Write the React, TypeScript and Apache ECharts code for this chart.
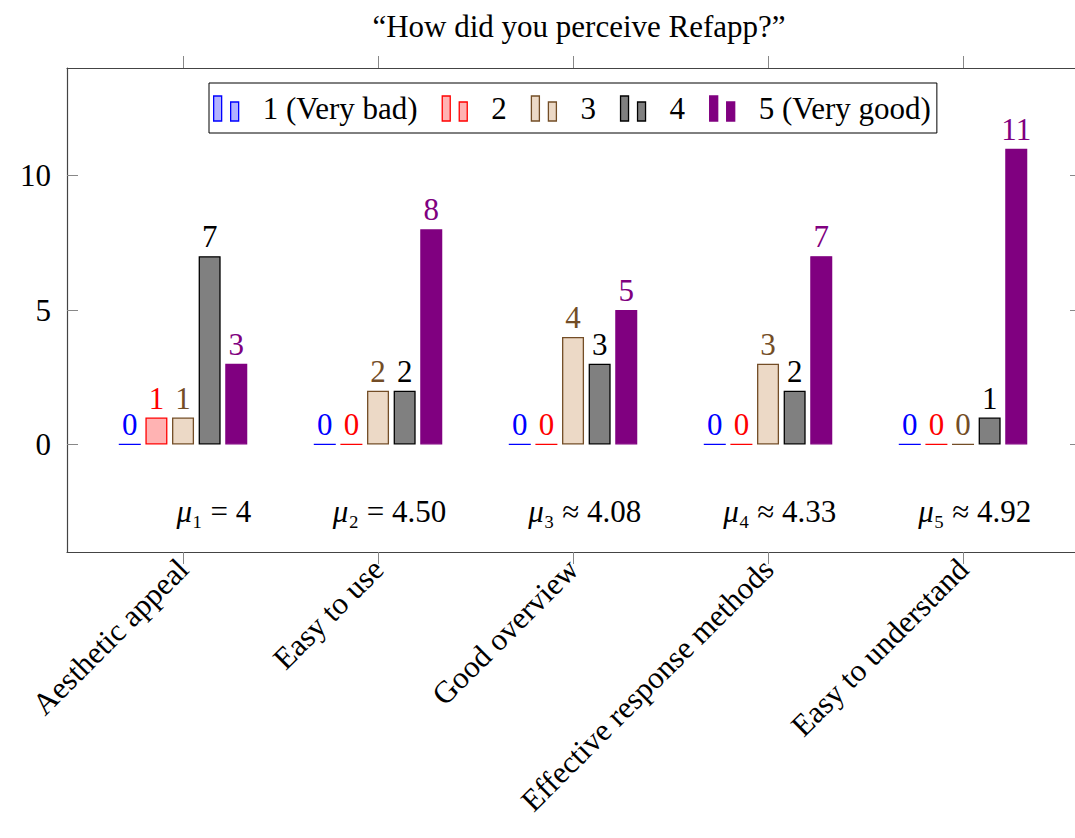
import React, { useEffect, useRef } from "react";
import * as echarts from "echarts";

const categories = [
  "Aesthetic appeal",
  "Easy to use",
  "Good overview",
  "Effective response methods",
  "Easy to understand",
];
const ratingNames = ["1 (Very bad)", "2", "3", "4", "5 (Very good)"];
const rating1 = [0, 0, 0, 0, 0];
const rating2 = [1, 0, 0, 0, 0];
const rating3 = [1, 2, 4, 3, 0];
const rating4 = [7, 2, 3, 2, 1];
const rating5 = [3, 8, 5, 7, 11];
const meanLabels = ["₁ = 4", "₂ = 4.50", "₃ ≈ 4.08", "₄ ≈ 4.33", "₅ ≈ 4.92"];
const yTicks = [0, 5, 10];
const xTicks = [0, 1, 2, 3, 4];

const fills = ["#b3b3ff", "#ffb3b3", "#ecd9c6", "#808080", "#800080"];
const strokes = ["#0000ff", "#ff0000", "#734d26", "#000000", "#800080"];

const FONT = "'Liberation Serif', 'Times New Roman', serif";
const FS = 31;

export default function App() {
  const ref = useRef<HTMLDivElement>(null);
  useEffect(() => {
    if (!ref.current) return;
    const chart = echarts.init(ref.current, undefined, { renderer: "svg" });
    const all = [rating1, rating2, rating3, rating4, rating5];
    const barSeries = all.map((vals, si) => ({
      type: "bar",
      name: ratingNames[si],
      xAxisIndex: 0,
      yAxisIndex: 0,
      data: vals.map((v, i) => [i, v]),
      barWidth: 22,
      barGap: "21%",
      itemStyle: { color: fills[si], borderColor: strokes[si], borderWidth: 1.3 },
      label: {
        show: true,
        position: "top",
        distance: 4,
        color: strokes[si],
        fontFamily: FONT,
        fontSize: FS,
        formatter: (p: any) => String(p.value[1]),
      },
    }));
    const meanSeries = {
      type: "scatter",
      name: "means",
      silent: true,
      symbolSize: 0,
      itemStyle: { color: "#000" },
      data: meanLabels.map((_, i) => [i + 0.35, -2.5]),
      label: {
        show: true,
        position: "left",
        distance: 0,
        color: "#000",
        opacity: 1,
        fontFamily: FONT,
        fontSize: FS,
        formatter: (p: any) => "{i|μ}" + meanLabels[p.dataIndex],
        rich: { i: { fontStyle: "italic", fontFamily: FONT, fontSize: FS, color: "#000" } },
      },
    };
    const axisLineStyle = { color: "#444", width: 1.2 };
    chart.setOption({
      animation: false,
      backgroundColor: "#fff",
      title: {
        text: "“How did you perceive Refapp?”",
        left: 574,
        textAlign: "center",
        top: 6,
        textStyle: { fontFamily: FONT, fontSize: FS, fontWeight: "normal", color: "#000" },
      },
      legend: {
        data: ratingNames,
        left: 209,
        top: 83,
        orient: "horizontal",
        icon: "path://M0,0 H8 V25 H0 Z M17,6 H25 V25 H17 Z",
        itemWidth: 25,
        itemHeight: 25,
        itemGap: 24,
        padding: [10, 6, 9, 4],
        borderColor: "#000",
        borderWidth: 1,
        borderRadius: 0,
        backgroundColor: "#fff",
        selectedMode: false,
        itemStyle: { borderWidth: 1.3 },
        textStyle: { fontFamily: FONT, fontSize: FS, color: "#000", padding: [0, 0, 0, 19] },
      },
      grid: {
        left: 67,
        top: 68,
        width: 1014,
        height: 484,
        containLabel: false,
        outerBoundsMode: "none",
      },
      xAxis: [
        {
          type: "value",
          position: "bottom",
          min: -0.595,
          max: 4.605,
          splitLine: { show: false },
          axisLine: { show: true, onZero: false, lineStyle: axisLineStyle },
          axisTick: { show: true, inside: false, length: 12, customValues: xTicks, lineStyle: { color: "#888" } },
          axisLabel: {
            show: true,
            customValues: xTicks,
            rotate: 45,
            margin: 12,
            fontFamily: FONT,
            fontSize: FS,
            color: "#000",
            formatter: (v: number) => categories[Math.round(v)] ?? "",
          },
        },
        {
          type: "value",
          position: "top",
          min: -0.595,
          max: 4.605,
          splitLine: { show: false },
          axisLine: { show: true, onZero: false, lineStyle: axisLineStyle },
          axisTick: { show: true, inside: false, length: 12, customValues: xTicks, lineStyle: { color: "#888" } },
          axisLabel: { show: false },
        },
      ],
      yAxis: [
        {
          type: "value",
          position: "left",
          min: -4,
          max: 14,
          splitLine: { show: false },
          axisLine: { show: true, onZero: false, lineStyle: axisLineStyle },
          axisTick: { show: true, inside: true, length: 11, customValues: yTicks, lineStyle: { color: "#888" } },
          axisLabel: {
            show: true,
            customValues: yTicks,
            margin: 16,
            fontFamily: FONT,
            fontSize: FS,
            color: "#000",
          },
        },
        {
          type: "value",
          position: "right",
          min: -4,
          max: 14,
          splitLine: { show: false },
          axisLine: { show: true, onZero: false, lineStyle: axisLineStyle },
          axisTick: { show: true, inside: true, length: 11, customValues: yTicks, lineStyle: { color: "#888" } },
          axisLabel: { show: false },
        },
      ],
      series: [...barSeries, meanSeries],
    });
    return () => chart.dispose();
  }, []);
  return (
    <div
      ref={ref}
      style={{ position: "fixed", left: 0, top: 0, width: 1075, height: 838 }}
    />
  );
}
